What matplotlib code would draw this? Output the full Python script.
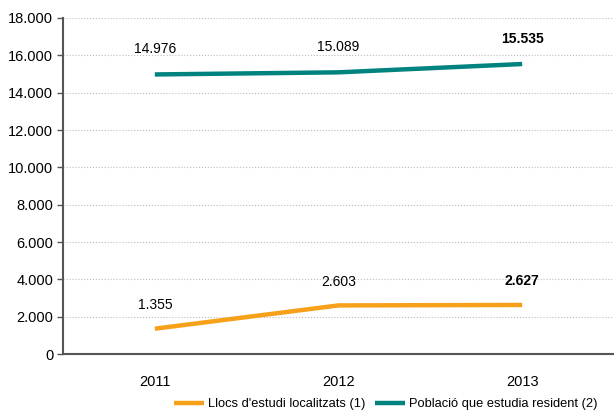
import matplotlib.pyplot as plt
from matplotlib.ticker import FuncFormatter

plt.rcParams['font.family'] = ['Liberation Sans', 'DejaVu Sans']

years = ['2011', '2012', '2013']
llocs = [1355, 2603, 2627]
poblacio = [14976, 15089, 15535]
labels_llocs = ['1.355', '2.603', '2.627']
labels_pob = ['14.976', '15.089', '15.535']

fig = plt.figure(figsize=(6.14, 4.11), dpi=100)
ax = fig.add_axes([63/614, 57/411, 551/614, 336/411])

x = range(len(years))
ax.plot(x, llocs, color='#F7A11A', lw=3.2, solid_capstyle='butt', label="Llocs d'estudi localitzats (1)")
ax.plot(x, poblacio, color='#00837F', lw=3.2, solid_capstyle='butt', label='Població que estudia resident (2)')

for i in x:
    w = 'bold' if i == 2 else 'normal'
    ax.annotate(labels_llocs[i], (i, llocs[i]), xytext=(0, 12), textcoords='offset points',
                ha='center', va='bottom', fontsize=10, fontweight=w)
    ax.annotate(labels_pob[i], (i, poblacio[i]), xytext=(0, 13), textcoords='offset points',
                ha='center', va='bottom', fontsize=10, fontweight=w)

ax.set_xlim(-0.5, 2.5)
ax.set_ylim(0, 18000)
ax.set_yticks(range(0, 18001, 2000))
ax.yaxis.set_major_formatter(FuncFormatter(lambda v, p: f'{int(v):,}'.replace(',', '.')))
ax.set_xticks(list(x))
ax.set_xticklabels(years)
ax.tick_params(axis='x', length=0, labelsize=10.5, pad=15)
ax.tick_params(axis='y', length=4, width=1, color='#555555', labelsize=10.5, pad=3)
ax.grid(axis='y', color='#bbbbbb', ls=':', lw=0.8)
ax.set_axisbelow(True)
for s in ['top', 'right']:
    ax.spines[s].set_visible(False)
for s in ['left', 'bottom']:
    ax.spines[s].set_color('#555555')
    ax.spines[s].set_linewidth(1.5)

ax.legend(loc='center', bbox_to_anchor=(0.586, -50/336), ncol=2, frameon=False,
          fontsize=9.3, handlelength=2.3, columnspacing=0.8, handletextpad=0.3)

fig.savefig('out.png', dpi=100)
